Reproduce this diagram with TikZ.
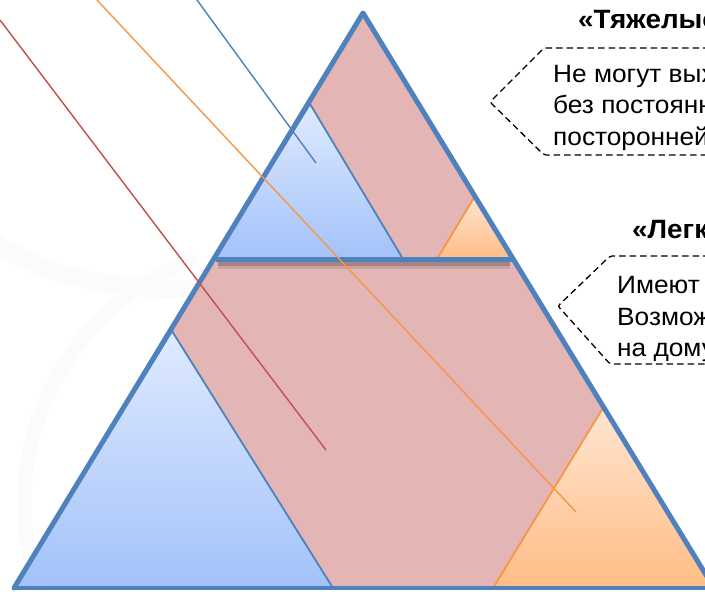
\documentclass[tikz,border=0pt]{standalone}
\usepackage{fontspec}
\setmainfont[FakeStretch=1.05]{Liberation Sans}
\usetikzlibrary{calc}
\definecolor{frameblue}{RGB}{79,129,189}
\definecolor{pinkfill}{RGB}{227,181,181}
\definecolor{bluetop}{RGB}{223,234,255}
\definecolor{bluebot}{RGB}{163,194,249}
\definecolor{orangetop}{RGB}{255,229,208}
\definecolor{orangebot}{RGB}{255,189,134}
\definecolor{orangeline}{RGB}{247,150,70}
\definecolor{redline}{RGB}{192,80,77}
\tikzset{
  frame/.style={draw=frameblue, line width=5pt, line join=round, line cap=round},
  bluetri/.style={top color=bluetop, bottom color=bluebot, draw=frameblue, line width=1.8pt, line join=round},
  orangetri/.style={top color=orangetop, bottom color=orangebot, draw=orangeline, line width=1.8pt, line join=round},
  ray/.style={line width=1.4pt},
  callout/.style={draw=black, line width=1.3pt, dash pattern=on 6.5pt off 4pt, rounded corners=2pt},
  txt/.style={anchor=base west, inner sep=0pt, font=\fontsize{25}{30}\selectfont},
  ttl/.style={anchor=base west, inner sep=0pt, font=\fontsize{26.5}{30}\selectfont\bfseries}
}
\begin{document}
\begin{tikzpicture}[x=1pt, y=-1pt]
\useasboundingbox (0,0) rectangle (705,592);
\clip (0,0) rectangle (705,592);
\fill[white] (0,0) rectangle (705,592);

% faint background swirls
\draw[gray!3, line width=18pt] (-40,210) arc[start angle=160, end angle=20, x radius=230pt, y radius=-120pt];
\draw[gray!3, line width=14pt] (40,592) arc[start angle=200, end angle=110, radius=260pt];

% main pyramid corners
\coordinate (apex) at (363,13);
\coordinate (bl) at (14,588);
\coordinate (br) at (714,588);
\coordinate (ml) at (214,259);
\coordinate (mr) at (512,259);

% pink body
\fill[pinkfill] (apex) -- (bl) -- (br) -- cycle;

% upper tier triangles
\path[bluetri] (310,104) -- (214,259) -- (403,259) -- cycle;
\path[orangetri] (475,196) -- (437,259) -- (512,259) -- cycle;

% lower tier triangles
\path[bluetri] (172,331) -- (14,588) -- (333,588) -- cycle;
\path[orangetri] (603,408) -- (493,588) -- (714,588) -- cycle;

% outline of the pyramid
\draw[frame] (bl) -- (apex) -- (br);
\draw[draw=frameblue, line width=4pt] (bl) -- (br);

% dividing bar with its shadow
\draw[black, opacity=0.10, line width=9pt] ($(ml)+(4,5)$) -- ($(mr)+(-2,5)$);
\draw[black, opacity=0.18, line width=6pt] ($(ml)+(4,4)$) -- ($(mr)+(-2,4)$);
\draw[frame, line cap=butt] (216,259) -- (515,259);

% pointer lines
\coordinate (b0) at (197,0);
\coordinate (b1) at (316,163);
\coordinate (o0) at (97,0);
\coordinate (o1) at (576,512);
\coordinate (r0) at (0,20);
\coordinate (r1) at (326,450);
\draw[ray, frameblue] (b0) -- (b1);
\draw[ray, orangeline] (o0) -- (o1);
\draw[ray, redline] (r0) -- (r1);

% callouts
\draw[callout] (720,48) -- (544,48) -- (490,102) -- (544,155) -- (720,155);
\draw[callout] (720,256) -- (610,256) -- (558,306) -- (610,364) -- (720,364);

\node[ttl] (heavy) at (578,28) {«Тяжелые»};
\node[txt] (h1) at (553,82) {Не могут выходить};
\node[txt] (h2) at (553,113) {без постоянной};
\node[txt] (h3) at (553,145) {посторонней помощи};

\node[ttl] (light) at (632,238) {«Легкие»};
\node[txt] (l1) at (617,293) {Имеют};
\node[txt] (l2) at (617,325) {Возможно};
\node[txt] (l3) at (617,356) {на дому};
\end{tikzpicture}
\end{document}
